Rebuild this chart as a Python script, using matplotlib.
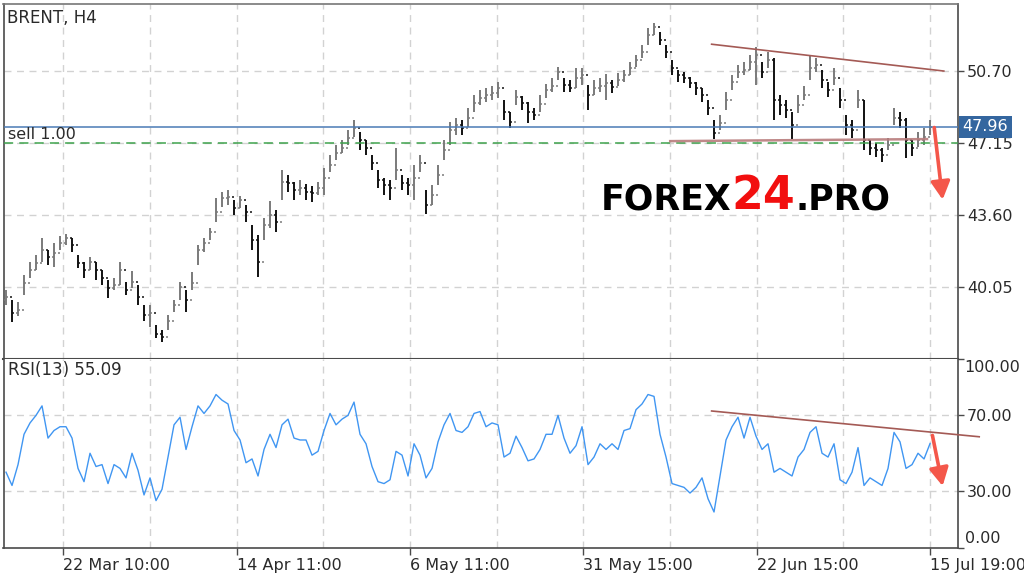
import matplotlib
matplotlib.use("Agg")
import matplotlib.pyplot as plt
import matplotlib.transforms as mtransforms
import numpy as np

# ---------------- data ----------------
first_open = 39.41
close = [39.56, 38.77, 38.92, 40.25, 40.89, 41.23, 41.88, 41.53, 41.73, 42.22,
         42.47, 42.12, 41.23, 40.89, 41.28, 40.89, 40.49, 40.00, 40.15, 40.89,
         39.90, 40.30, 39.56, 38.67, 38.77, 37.78, 37.59, 38.42, 39.16, 40.05,
         39.41, 40.25, 41.88, 42.22, 42.76, 43.75, 44.44, 44.49, 43.95, 44.34,
         43.75, 42.37, 41.28, 43.11, 43.60, 43.26, 45.23, 45.18, 44.83, 44.93,
         44.73, 44.69, 44.93, 45.42, 46.07, 46.66, 46.90, 47.40, 47.89, 47.30,
         46.90, 46.16, 45.33, 45.08, 44.93, 45.82, 45.18, 45.08, 45.42, 46.16,
         44.09, 44.59, 45.57, 46.81, 47.79, 48.04, 47.89, 48.38, 49.12, 49.37,
         49.52, 49.62, 49.86, 48.68, 48.19, 49.42, 49.12, 48.68, 48.53, 49.07,
         49.76, 49.96, 50.65, 50.01, 49.86, 50.35, 50.50, 49.52, 49.86, 49.96,
         50.11, 49.91, 50.26, 50.50, 50.85, 51.24, 51.64, 52.47, 52.87, 52.23,
         51.64, 50.85, 50.50, 50.35, 50.11, 49.86, 49.52, 48.88, 47.64, 48.14,
         49.27, 50.16, 50.65, 50.75, 51.14, 51.49, 50.65, 51.24, 49.27, 49.02,
         48.78, 48.04, 49.02, 49.52, 50.85, 51.00, 50.26, 49.76, 50.35, 49.27,
         48.04, 47.79, 49.27, 47.30, 46.90, 46.81, 46.56, 47.05, 48.38, 48.28,
         47.30, 46.90, 47.30, 47.45, 47.96]
high = [39.90, 39.41, 39.31, 40.64, 41.28, 41.63, 42.47, 41.88, 42.22, 42.57,
        42.66, 42.47, 41.63, 41.28, 41.53, 41.28, 40.89, 40.40, 40.49, 41.28,
        40.30, 40.84, 40.15, 39.16, 39.16, 38.18, 37.93, 38.67, 39.41, 40.30,
        39.90, 40.79, 42.12, 42.47, 42.96, 44.44, 44.73, 44.83, 44.34, 44.54,
        44.09, 43.11, 42.61, 43.45, 44.29, 43.85, 45.82, 45.57, 45.23, 45.33,
        45.13, 45.03, 45.23, 45.92, 46.56, 47.05, 47.30, 47.79, 48.28, 47.69,
        47.30, 46.56, 45.82, 45.42, 45.33, 46.90, 45.57, 45.42, 46.07, 46.56,
        44.83, 45.08, 46.07, 47.30, 48.19, 48.38, 48.28, 48.88, 49.52, 49.76,
        49.86, 49.96, 50.16, 49.27, 48.68, 49.76, 49.47, 49.17, 48.88, 49.52,
        50.06, 50.35, 50.90, 50.35, 50.26, 50.85, 50.85, 50.01, 50.26, 50.35,
        50.55, 50.26, 50.60, 50.75, 51.14, 51.49, 51.98, 52.82, 53.07, 52.62,
        51.98, 51.24, 50.75, 50.65, 50.40, 50.16, 49.86, 49.27, 48.28, 48.53,
        49.66, 50.50, 51.00, 51.14, 51.49, 51.88, 51.14, 51.64, 51.34, 49.52,
        49.27, 48.68, 49.52, 49.96, 51.44, 51.34, 50.75, 50.16, 50.85, 49.86,
        48.53, 48.28, 49.76, 49.27, 47.30, 47.15, 46.90, 47.40, 48.88, 48.68,
        48.38, 47.30, 47.69, 47.89, 48.28]
low = [39.16, 38.33, 38.62, 39.66, 40.49, 40.89, 41.28, 41.14, 41.04, 41.88,
       42.12, 41.78, 40.99, 40.49, 40.89, 40.40, 40.15, 39.51, 39.90, 40.15,
       39.66, 40.00, 39.16, 38.42, 38.08, 37.54, 37.34, 37.93, 38.82, 39.41,
       38.82, 39.90, 41.14, 41.78, 42.37, 43.26, 43.99, 44.09, 43.60, 43.95,
       43.26, 41.88, 40.54, 42.37, 42.96, 42.76, 44.34, 44.73, 44.34, 44.59,
       44.34, 44.24, 44.59, 44.59, 45.72, 46.31, 46.66, 47.05, 47.45, 46.81,
       46.56, 45.82, 44.93, 44.59, 44.34, 45.33, 44.83, 44.59, 44.34, 45.72,
       43.65, 44.09, 45.08, 46.31, 47.05, 47.54, 47.54, 47.94, 48.68, 49.02,
       49.17, 49.27, 49.37, 48.28, 47.89, 49.02, 48.78, 48.14, 48.28, 48.68,
       49.37, 49.66, 50.26, 49.66, 49.66, 49.86, 50.01, 48.78, 49.52, 49.66,
       49.27, 49.62, 49.96, 50.16, 50.50, 50.90, 51.34, 51.98, 52.47, 51.98,
       51.34, 50.50, 50.16, 50.11, 49.86, 49.52, 49.17, 48.53, 47.35, 47.79,
       48.78, 49.76, 50.35, 50.50, 50.75, 50.01, 50.35, 50.85, 48.28, 48.53,
       48.38, 47.35, 48.63, 49.27, 50.26, 50.65, 49.86, 49.42, 50.01, 48.88,
       47.54, 47.40, 48.88, 46.81, 46.56, 46.46, 46.21, 46.81, 48.04, 47.89,
       46.41, 46.51, 46.95, 47.05, 47.54]
rsi = [40, 33, 44, 60, 66, 70, 75, 58, 62, 64,
       64, 58, 42, 35, 50, 43, 44, 34, 44, 42,
       37, 50, 41, 28, 37, 25, 31, 48, 65, 69,
       52, 64, 75, 71, 75, 81, 78, 76, 62, 57,
       45, 47, 38, 52, 60, 53, 65, 68, 58, 57,
       57, 49, 51, 62, 71, 65, 68, 70, 77, 60,
       55, 43, 35, 34, 36, 51, 49, 38, 55, 49,
       37, 42, 56, 65, 71, 62, 61, 64, 71, 72,
       64, 66, 65, 48, 50, 59, 53, 46, 47, 52,
       60, 60, 70, 58, 50, 54, 64, 44, 48, 55,
       52, 55, 52, 62, 63, 73, 76, 81, 80, 60,
       48, 34, 33, 32, 29, 32, 37, 26, 19, 38,
       57, 64, 69, 58, 69, 59, 52, 55, 40, 42,
       40, 38, 48, 52, 61, 64, 50, 48, 55, 36,
       34, 40, 53, 33, 37, 35, 33, 42, 61, 56,
       42, 44, 50, 47, 55.09]

price_ticks = [40.05, 43.60, 47.15, 50.70]
rsi_ticks = [30, 70]
date_labels = ["22 Mar 10:00", "14 Apr 11:00", "6 May 11:00",
               "31 May 15:00", "22 Jun 15:00", "15 Jul 19:00"]
symbol_title = "BRENT, H4"
order_text = "sell 1.00"
order_price = 47.96
stop_price = 47.15
rsi_title = "RSI(13) 55.09"

# annotation lines (bar index, value)
res_line = [(117.6, 52.02), (156.3, 50.70)]
sup_line = [(110.7, 47.25), (153.5, 47.35)]
rsi_line = [(117.6, 72.3), (162.2, 58.7)]
arrow_main = [(154.7, 47.92), (156.1, 44.37)]
arrow_rsi = [(154.4, 59.4), (156.1, 32.7)]

# ---------------- figure ----------------
W, H = 1024, 577
fig = plt.figure(figsize=(W / 100, H / 100), dpi=100)
fig.patch.set_facecolor("white")

def fx(px):
    return px / W

def fy(py):
    return 1 - py / H

ax = fig.add_axes([fx(3.5), fy(358.5), fx(957.5) - fx(3.5), fy(4) - fy(358.5)])
ax2 = fig.add_axes([fx(3.5), fy(548), fx(957.5) - fx(3.5), fy(358.5) - fy(548)])

n = len(close)
x = np.arange(n)
opens = [first_open] + close[:-1]
xlim = (-0.42, 158.58)
grid_pos = 9.55 + 14.444 * np.arange(11)

spine_col = "#4a4a4a"
grid_col = "#d2d2d2"
dash = (0, (5, 4))
text_col = "#2a2a2a"

for a in (ax, ax2):
    a.set_xlim(*xlim)
    for s in a.spines.values():
        s.set_color(spine_col)
        s.set_linewidth(1.2)
    for gp in grid_pos:
        a.axvline(gp, color=grid_col, lw=1, ls=dash, zorder=0)
ax2.spines["top"].set_visible(False)
ax.spines["bottom"].set_linewidth(1.5)
ax.spines["top"].set_color("#777777")

# ---- main price panel ----
ax.set_ylim(36.55, 54.0)
for p in price_ticks:
    ax.axhline(p, color=grid_col, lw=1, ls=dash, zorder=0)

cols = ["#7a7a7a" if c >= o else "#111111" for o, c in zip(opens, close)]
ax.vlines(x, low, high, colors=cols, lw=1.4, zorder=3)
ax.hlines(opens, x - 0.4, x, colors=cols, lw=1.1, zorder=3)
ax.hlines(close, x, x + 0.4, colors=cols, lw=1.1, zorder=3)

ax.axhline(order_price, color="#4a7ab5", lw=1.1, zorder=4)
ax.axhline(stop_price, color="#3fa34d", lw=1.1, ls=(0, (6, 4)), zorder=4)

ax.yaxis.tick_right()
ax.set_yticks(price_ticks)
ax.set_yticklabels([f"{p:.2f}" for p in price_ticks])
ax.tick_params(axis="y", direction="out", length=4, width=1, colors=spine_col,
               labelcolor=text_col, labelsize=11.5, pad=3)
ax.set_xticks([])

off = mtransforms.offset_copy(ax.get_yaxis_transform(), fig=fig, x=5, y=0, units="dots")
ax.text(1.0, order_price, f"{order_price:.2f}", transform=off, ha="left", va="center",
        fontsize=11.5, color="white",
        bbox=dict(boxstyle="square,pad=0.22", fc="#34669f", ec="none"), zorder=6, clip_on=False)

trend_col = "#a45a55"
ax.plot([p[0] for p in res_line], [p[1] for p in res_line], color=trend_col, lw=1.2, zorder=5)
ax.plot([p[0] for p in sup_line], [p[1] for p in sup_line], color="#b87c7c", lw=1.8, zorder=5, alpha=0.9)
ax.annotate("", xy=arrow_main[1], xytext=arrow_main[0],
            arrowprops=dict(arrowstyle="-|>,head_length=0.6,head_width=0.32",
                            color="#f4574a", lw=2.6, mutation_scale=18, shrinkA=0, shrinkB=0),
            annotation_clip=False, zorder=7)

fig.text(fx(7), fy(23), symbol_title, fontsize=12, color=text_col, va="baseline", ha="left")
fig.text(fx(8), fy(139), order_text, fontsize=11.5, color=text_col, va="baseline", ha="left")

# watermark
t1 = fig.text(fx(601), fy(209), "FOREX", fontsize=25, fontweight="heavy",
              color="black", va="baseline", ha="left", zorder=10)
t2 = fig.text(0, 0, "24", fontsize=33, fontweight="heavy", color="#f20f0f",
              va="baseline", ha="left", zorder=10)
t3 = fig.text(0, 0, ".PRO", fontsize=25, fontweight="heavy", color="black",
              va="baseline", ha="left", zorder=10)
fig.canvas.draw()
r = fig.canvas.get_renderer()
bb1 = t1.get_window_extent(r)
t2.set_position((bb1.x1 / W, fy(209)))
bb2 = t2.get_window_extent(r)
t3.set_position((bb2.x1 / W, fy(209)))

# ---- RSI panel ----
ax2.set_ylim(0, 100)
for v in rsi_ticks:
    ax2.axhline(v, color=grid_col, lw=1, ls=dash, zorder=0)
ax2.plot(x, rsi, color="#4096f2", lw=1.0, zorder=3)
ax2.yaxis.tick_right()
ax2.set_yticks([0] + rsi_ticks + [100])
ax2.set_yticklabels([""] + [f"{v:.2f}" for v in rsi_ticks] + [""])
ax2.tick_params(axis="y", direction="out", length=4, width=1, colors=spine_col,
                labelcolor=text_col, labelsize=11.5, pad=3)
yoff = mtransforms.offset_copy(ax2.get_yaxis_transform(), fig=fig, x=7, y=-2, units="dots")
ax2.text(1.0, 100, "100.00", transform=yoff, ha="left", va="top", fontsize=11.5,
         color=text_col, clip_on=False)
yoff0 = mtransforms.offset_copy(ax2.get_yaxis_transform(), fig=fig, x=7, y=2, units="dots")
ax2.text(1.0, 0, "0.00", transform=yoff0, ha="left", va="bottom", fontsize=11.5,
         color=text_col, clip_on=False)

ax2.set_xticks(grid_pos[::2])
ax2.set_xticklabels(date_labels, ha="left")
ax2.tick_params(axis="x", direction="out", length=5, width=1, colors=spine_col,
                labelcolor=text_col, labelsize=11.5, pad=2)

ax2.plot([p[0] for p in rsi_line], [p[1] for p in rsi_line], color=trend_col, lw=1.2,
         zorder=5, clip_on=False)
ax2.annotate("", xy=arrow_rsi[1], xytext=arrow_rsi[0],
             arrowprops=dict(arrowstyle="-|>,head_length=0.6,head_width=0.32",
                             color="#f4574a", lw=2.6, mutation_scale=18, shrinkA=0, shrinkB=0),
             annotation_clip=False, zorder=7)
fig.text(fx(8), fy(375), rsi_title, fontsize=12, color=text_col, va="baseline", ha="left")

fig.savefig("out.png", dpi=100, facecolor="white")
